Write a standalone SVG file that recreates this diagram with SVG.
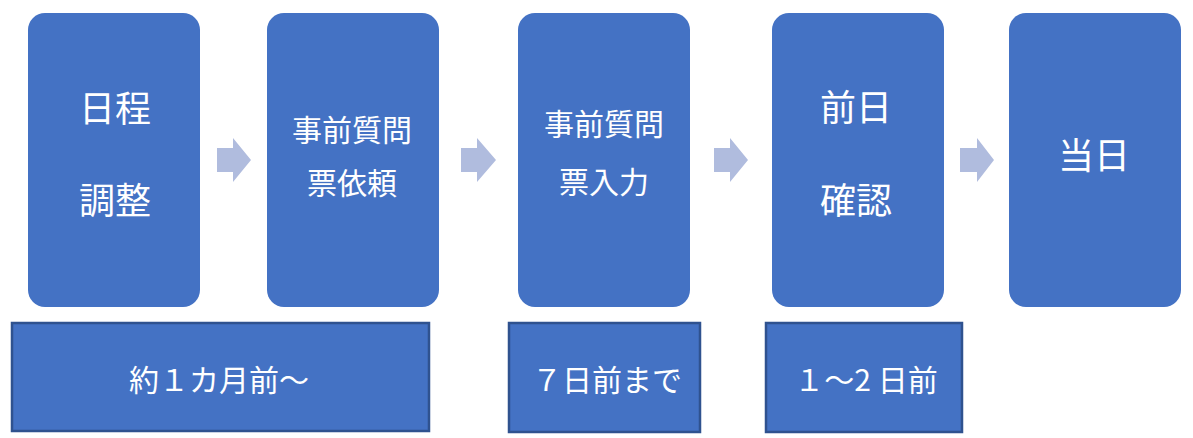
<svg xmlns="http://www.w3.org/2000/svg" width="1193" height="438" viewBox="0 0 1193 438">
<style>
.step{fill:#4472C4;}
.note{fill:#4472C4;stroke:#2F528F;stroke-width:2.5;}
.arr{fill:#B0BCDE;}
text{font-family:"Noto Sans CJK JP","Noto Sans",sans-serif;fill:#FFFFFF;text-anchor:middle;}
.big{font-size:36px;}
.mid{font-size:30px;}
</style>
<rect width="1193" height="438" fill="#FFFFFF"/>
<g id="connectors">
<polygon class="arr" points="217,148 233,148 233,138 251,160 233,182 233,172 217,172"/>
<polygon class="arr" points="461,148 477,148 477,138 496,160 477,182 477,172 461,172"/>
<polygon class="arr" points="714,148 730,148 730,138 748,160 730,182 730,172 714,172"/>
<polygon class="arr" points="960,148 977,148 977,138 994,160 977,182 977,172 960,172"/>
</g>
<g id="step1">
<rect class="step" x="28" y="13" width="172" height="294" rx="17"/>
<text class="big" x="115" y="121.5">日程</text>
<text class="big" x="115" y="213.5">調整</text>
</g>
<g id="step2">
<rect class="step" x="267" y="13" width="172" height="294" rx="17"/>
<text class="mid" x="352" y="141">事前質問</text>
<text class="mid" x="352" y="193.5">票依頼</text>
</g>
<g id="step3">
<rect class="step" x="518" y="13" width="172" height="294" rx="17"/>
<text class="mid" x="604" y="134.5">事前質問</text>
<text class="mid" x="604" y="192.5">票入力</text>
</g>
<g id="step4">
<rect class="step" x="772" y="13" width="172" height="294" rx="17"/>
<text class="big" x="856" y="120.5">前日</text>
<text class="big" x="856" y="213.5">確認</text>
</g>
<g id="step5">
<rect class="step" x="1009" y="13" width="172" height="294" rx="17"/>
<text class="big" x="1094" y="168.5">当日</text>
</g>
<g id="note1">
<rect class="note" x="12" y="323" width="417" height="108"/>
<text class="mid" x="219" y="390.5">約１カ月前～</text>
</g>
<g id="note2">
<rect class="note" x="509" y="323" width="191" height="109"/>
<text class="mid" x="607" y="390.5">７日前まで</text>
</g>
<g id="note3">
<rect class="note" x="766" y="323" width="196" height="109"/>
<text class="mid" x="866" y="390.5">１～2 日前</text>
</g>
</svg>
